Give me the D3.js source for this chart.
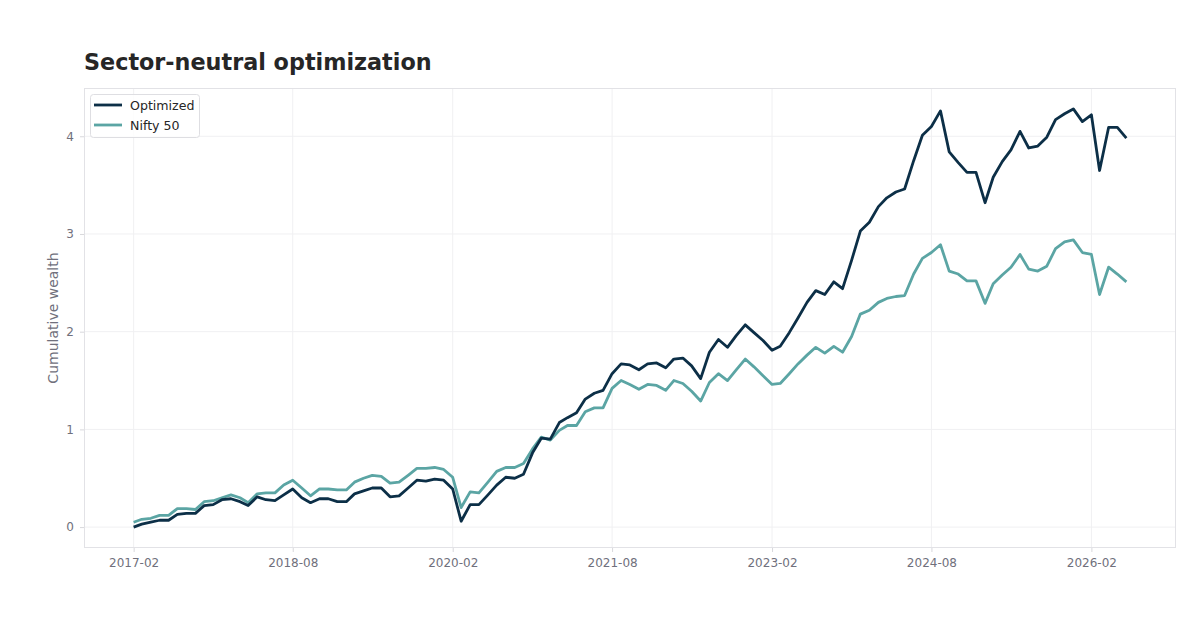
<!DOCTYPE html>
<html>
<head>
<meta charset="utf-8">
<script src="https://cdn.jsdelivr.net/npm/d3@7"></script>
<style>
  body { margin: 0; background: #fff; }
  svg { font-family: "DejaVu Sans", sans-serif; }
</style>
</head>
<body>
<svg id="chart" width="1200" height="630"></svg>
<script>
// monthly series, first month 2017-02
var startMonth = "2017-02";

var optimized = [
    0.00, 0.03, 0.05, 0.07, 0.07, 0.13, 0.14, 0.14, 0.22, 0.23,
    0.28, 0.29, 0.26, 0.22, 0.31, 0.28, 0.27, 0.33, 0.39, 0.30,
    0.25, 0.29, 0.29, 0.26, 0.26, 0.34, 0.37, 0.40, 0.40, 0.31,
    0.32, 0.40, 0.48, 0.47, 0.49, 0.48, 0.39, 0.06, 0.23, 0.23,
    0.33, 0.43, 0.51, 0.50, 0.54, 0.76, 0.91, 0.90, 1.07, 1.12,
    1.17, 1.31, 1.37, 1.40, 1.57, 1.67, 1.66, 1.61, 1.67, 1.68,
    1.63, 1.72, 1.73, 1.65, 1.52, 1.79, 1.92, 1.84, 1.96, 2.07,
    1.99, 1.91, 1.81, 1.85, 1.99, 2.14, 2.30, 2.42, 2.38, 2.51,
    2.44, 2.73, 3.03, 3.12, 3.28, 3.37, 3.43, 3.46, 3.75, 4.01,
    4.10, 4.26, 3.84, 3.73, 3.63, 3.63, 3.32, 3.58, 3.74, 3.86,
    4.05, 3.88, 3.90, 3.99, 4.17, 4.23, 4.28, 4.15, 4.22, 3.65,
    4.09, 4.09, 3.98
];

var nifty = [
    0.05, 0.08, 0.09, 0.12, 0.12, 0.19, 0.19, 0.18, 0.26, 0.27,
    0.30, 0.33, 0.30, 0.25, 0.34, 0.35, 0.35, 0.43, 0.48, 0.40,
    0.32, 0.39, 0.39, 0.38, 0.38, 0.46, 0.50, 0.53, 0.52, 0.45,
    0.46, 0.53, 0.60, 0.60, 0.61, 0.59, 0.51, 0.20, 0.36, 0.35,
    0.46, 0.57, 0.61, 0.61, 0.65, 0.80, 0.92, 0.89, 0.99, 1.04,
    1.04, 1.18, 1.22, 1.22, 1.42, 1.50, 1.46, 1.41, 1.46, 1.45,
    1.40, 1.50, 1.47, 1.39, 1.29, 1.48, 1.57, 1.50, 1.61, 1.72,
    1.64, 1.55, 1.46, 1.47, 1.57, 1.67, 1.76, 1.84, 1.78, 1.85,
    1.79, 1.95, 2.18, 2.22, 2.30, 2.34, 2.36, 2.37, 2.59, 2.75,
    2.81, 2.89, 2.62, 2.59, 2.52, 2.52, 2.29, 2.49, 2.58, 2.66,
    2.79, 2.64, 2.62, 2.67, 2.85, 2.92, 2.94, 2.81, 2.79, 2.38,
    2.66, 2.59, 2.51
];

var xTickLabels = ["2017-02", "2018-08", "2020-02", "2021-08", "2023-02", "2024-08", "2026-02"];
var yTicks = [0, 1, 2, 3, 4];

var seriesNames = ["Optimized", "Nifty 50"];
var colors = ["#0c2f47", "#5ba5a4"];

var svg = d3.select("#chart");
var margin = {left: 84, right: 24, top: 88, bottom: 82};
var W = 1200, H = 630;

var parseMonth = d3.timeParse("%Y-%m");
var t0 = parseMonth(startMonth);
var dates = optimized.map(function(d, i) { return d3.timeMonth.offset(t0, i); });

var series = [optimized, nifty].map(function(vals, k) {
    return {name: seriesNames[k], color: colors[k],
            values: vals.map(function(v, i) { return {date: dates[i], v: v}; })};
});

// 5% padding like matplotlib autoscale
var xExt = d3.extent(dates);
var xPad = (xExt[1] - xExt[0]) * 0.05;
var x = d3.scaleTime()
    .domain([new Date(+xExt[0] - xPad), new Date(+xExt[1] + xPad)])
    .range([margin.left, W - margin.right]);

var yMin = d3.min(optimized.concat(nifty)), yMax = d3.max(optimized.concat(nifty));
var yPad = (yMax - yMin) * 0.05;
var y = d3.scaleLinear()
    .domain([yMin - yPad, yMax + yPad])
    .range([H - margin.bottom, margin.top]);

// grid
var grid = svg.append("g");
grid.selectAll("line.vx").data(xTickLabels).enter().append("line")
    .attr("x1", function(d) { return x(parseMonth(d)); })
    .attr("x2", function(d) { return x(parseMonth(d)); })
    .attr("y1", margin.top).attr("y2", H - margin.bottom)
    .attr("stroke", "#f0f0f2").attr("stroke-width", 1);
grid.selectAll("line.hy").data(yTicks).enter().append("line")
    .attr("y1", function(d) { return y(d); })
    .attr("y2", function(d) { return y(d); })
    .attr("x1", margin.left).attr("x2", W - margin.right)
    .attr("stroke", "#f0f0f2").attr("stroke-width", 1);

// axes
var xAxis = svg.append("g")
    .attr("transform", "translate(0," + (H - margin.bottom) + ")")
    .call(d3.axisBottom(x)
        .tickValues(xTickLabels.map(parseMonth))
        .tickFormat(d3.timeFormat("%Y-%m"))
        .tickSize(4).tickPadding(6));
var yAxis = svg.append("g")
    .attr("transform", "translate(" + margin.left + ",0)")
    .call(d3.axisLeft(y).tickValues(yTicks).tickFormat(d3.format("d"))
        .tickSize(4).tickPadding(6));

[xAxis, yAxis].forEach(function(a) {
    a.select(".domain").remove();
    a.selectAll(".tick line").attr("stroke", "#d8d8dc");
    a.selectAll(".tick text").attr("fill", "#70707c")
        .style("font-size", "12px").style("font-family", "DejaVu Sans");
});

// frame
svg.append("rect")
    .attr("x", margin.left + 0.5).attr("y", margin.top + 0.5)
    .attr("width", W - margin.left - margin.right - 1)
    .attr("height", H - margin.top - margin.bottom - 1)
    .attr("fill", "none").attr("stroke", "#e2e2e6");

// lines
var line = d3.line()
    .x(function(d) { return x(d.date); })
    .y(function(d) { return y(d.v); });

svg.selectAll("path.series").data(series).enter().append("path")
    .attr("class", "series")
    .attr("d", function(d) { return line(d.values); })
    .attr("fill", "none")
    .attr("stroke", function(d) { return d.color; })
    .attr("stroke-width", 2.8)
    .attr("stroke-linejoin", "round");

// optimized sits on top where the two cross
svg.selectAll("path.series").filter(function(d) { return d.name === "Optimized"; }).raise();

// title + y label
svg.append("text")
    .attr("x", margin.left).attr("y", 70)
    .attr("fill", "#262626")
    .style("font-size", "22.3px").style("font-weight", "bold")
    .text("Sector-neutral optimization");

svg.append("text")
    .attr("transform", "translate(58," + ((margin.top + H - margin.bottom) / 2) + ") rotate(-90)")
    .attr("text-anchor", "middle")
    .attr("fill", "#70707c")
    .style("font-size", "14px")
    .text("Cumulative wealth");

// legend
var lg = svg.append("g").attr("transform", "translate(90,94)");
lg.append("rect")
    .attr("x", 0.5).attr("y", 0.5).attr("width", 109).attr("height", 43)
    .attr("rx", 3)
    .attr("fill", "#fff").attr("fill-opacity", 0.8)
    .attr("stroke", "#dedee2");
var items = lg.selectAll("g.item").data(series).enter().append("g")
    .attr("transform", function(d, i) { return "translate(0," + (11 + i * 20) + ")"; });
items.append("line")
    .attr("x1", 4).attr("x2", 32)
    .attr("stroke", function(d) { return d.color; })
    .attr("stroke-width", 2.8);
items.append("text")
    .attr("x", 40).attr("y", 4.5)
    .attr("fill", "#262626")
    .style("font-size", "12.6px")
    .text(function(d) { return d.name; });
</script>
</body>
</html>
